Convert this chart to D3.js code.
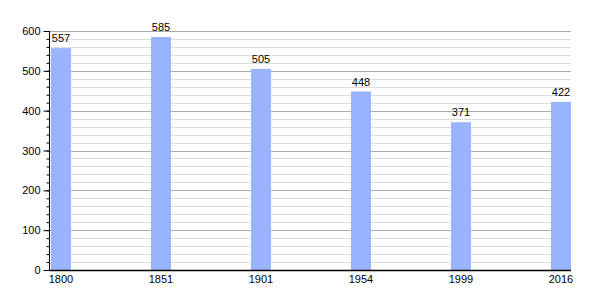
<!DOCTYPE html>
<html>
<head>
<meta charset="utf-8">
<script src="https://cdn.jsdelivr.net/npm/d3@7"></script>
<style>
  body { margin: 0; background: #fff; }
  text { font-family: "Liberation Sans", Arial, sans-serif; }
</style>
</head>
<body>
<div class="chart"></div>
<script>
const years = ['1800', '1851', '1901', '1954', '1999', '2016'];
const population = [557, 585, 505, 448, 371, 422];
const majorTicks = [0, 100, 200, 300, 400, 500, 600];

const width = 600, height = 300;
const plotLeft = 50, plotRight = 571, plotTop = 31, plotBottom = 270;

const svg = d3.select('.chart')
              .append('svg')
              .attr('width', width)
              .attr('height', height);

const xScale = d3.scaleBand()
                 .domain(years)
                 .range([plotLeft + 1, plotRight])
                 .paddingInner(0.8)
                 .paddingOuter(0);

const yScale = d3.scaleLinear()
                 .domain([0, 600])
                 .range([plotBottom, plotTop]);

// minor grid lines every 20
svg.append('g')
   .selectAll('line')
   .data(d3.range(20, 601, 20).filter(v => v % 100 !== 0))
   .enter()
   .append('line')
   .attr('x1', plotLeft)
   .attr('x2', plotRight)
   .attr('y1', d => Math.round(yScale(d)) + 0.5)
   .attr('y2', d => Math.round(yScale(d)) + 0.5)
   .attr('stroke', '#dddddd')
   .attr('stroke-width', 1);

// major grid lines every 100
svg.append('g')
   .selectAll('line')
   .data(majorTicks.slice(1))
   .enter()
   .append('line')
   .attr('x1', plotLeft)
   .attr('x2', plotRight)
   .attr('y1', d => Math.round(yScale(d)) + 0.5)
   .attr('y2', d => Math.round(yScale(d)) + 0.5)
   .attr('stroke', '#aaaaaa')
   .attr('stroke-width', 1);

// bars
svg.selectAll('rect.bar')
   .data(years)
   .enter()
   .append('rect')
   .attr('class', 'bar')
   .attr('x', d => xScale(d))
   .attr('y', (d, i) => yScale(population[i]))
   .attr('width', xScale.bandwidth())
   .attr('height', (d, i) => yScale(0) - yScale(population[i]))
   .attr('fill', '#99b3ff');

// value labels
svg.selectAll('text.value')
   .data(years)
   .enter()
   .append('text')
   .attr('class', 'value')
   .attr('x', d => xScale(d) + xScale.bandwidth() / 2)
   .attr('y', (d, i) => yScale(population[i]) - 6)
   .attr('text-anchor', 'middle')
   .attr('font-size', 11)
   .attr('fill', '#000')
   .text((d, i) => population[i]);

// y axis with minor ticks
const yMinor = d3.axisLeft(yScale)
                 .tickValues(d3.range(0, 601, 20))
                 .tickSize(3)
                 .tickFormat('');
svg.append('g')
   .attr('transform', `translate(${plotLeft - 0.5},0)`)
   .call(yMinor)
   .call(g => g.select('.domain').remove())
   .call(g => g.selectAll('line').attr('stroke', '#000'));

const yAxis = d3.axisLeft(yScale)
                .tickValues(majorTicks)
                .tickSize(6)
                .tickPadding(3);
svg.append('g')
   .attr('class', 'axis y-axis')
   .attr('transform', `translate(${plotLeft - 0.5},0)`)
   .call(yAxis)
   .call(g => g.selectAll('text').attr('font-size', 11).attr('fill', '#000')
               .style('font-family', '"Liberation Sans", Arial, sans-serif'))
   .call(g => g.select('.domain').attr('d', `M0,${plotTop}V${plotBottom}`).attr('stroke', '#000'));

// x axis line
svg.append('line')
   .attr('x1', plotLeft - 0.5)
   .attr('x2', plotRight)
   .attr('y1', plotBottom + 0.5)
   .attr('y2', plotBottom + 0.5)
   .attr('stroke', '#000')
   .attr('stroke-width', 1.5);

// x labels
svg.selectAll('text.year')
   .data(years)
   .enter()
   .append('text')
   .attr('class', 'year')
   .attr('x', d => xScale(d) + xScale.bandwidth() / 2)
   .attr('y', plotBottom + 13)
   .attr('text-anchor', 'middle')
   .attr('font-size', 11)
   .attr('fill', '#000')
   .text(d => d);
</script>
</body>
</html>
